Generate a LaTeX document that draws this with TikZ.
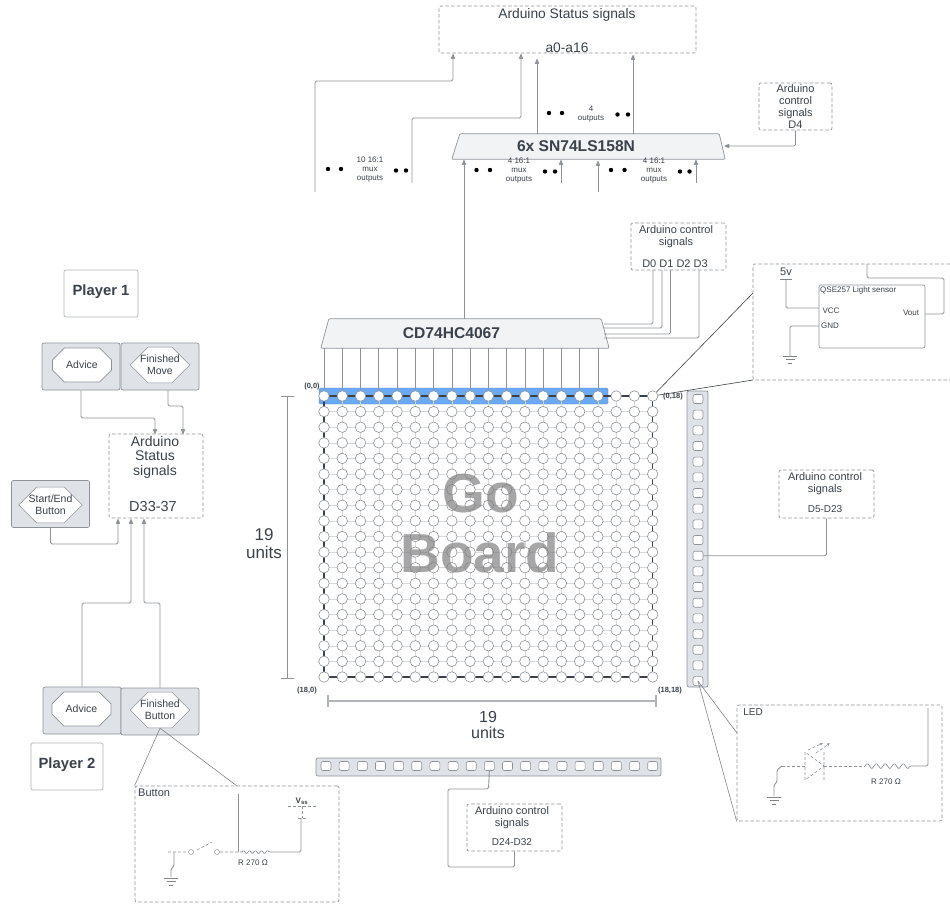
\documentclass[tikz,border=0pt]{standalone}
\usepackage{fontspec}
\setmainfont{Liberation Sans}
\usetikzlibrary{arrows.meta,shapes.misc,decorations.pathmorphing}
\definecolor{inkGray}{HTML}{3A414A}
\definecolor{lineGray}{HTML}{8E9399}
\definecolor{panelGray}{HTML}{DFE3E8}
\definecolor{muxGray}{HTML}{F2F3F5}
\definecolor{barBlue}{HTML}{6AA9F4}
\tikzset{
  sigText/.style={text=inkGray, inner sep=0pt, font=\fontsize{#1}{#1}\selectfont, align=center},
  sigText/.default=10,
  boldText/.style={text=inkGray, inner sep=0pt, font=\fontsize{#1}{#1}\selectfont\bfseries, align=center},
  wire/.style={draw=lineGray, line width=0.9pt, rounded corners=1.5},
  thinWire/.style={draw=lineGray!90!black, line width=0.6pt, rounded corners=1},
  dashWire/.style={draw=lineGray, line width=0.6pt, dash pattern=on 3pt off 2pt},
  sigArrow/.style={wire, -{Latex[length=6pt,width=5pt,round]}, shorten >=0pt},
  dashBox/.style={draw=lineGray, line width=0.7pt, dash pattern=on 3.5pt off 2.2pt, rounded corners=2, inner sep=0pt},
  plainBox/.style={draw=lineGray!70, line width=0.7pt, rounded corners=2, inner sep=0pt},
  panelBox/.style={draw=lineGray, fill=panelGray, line width=0.7pt, rounded corners=2, inner sep=0pt, minimum width=78, minimum height=47},
  octaBox/.style={draw=lineGray, fill=white, line width=0.6pt, chamfered rectangle, chamfered rectangle xsep=10, chamfered rectangle ysep=8, inner sep=0pt, minimum width=59, minimum height=34, text=inkGray, align=center, font=\fontsize{10.5}{12}\selectfont},
  muxArea/.style={inner sep=0pt},
  muxFill/.style={draw=lineGray, fill=muxGray, line width=0.7pt, rounded corners=1},
  gridDot/.style={circle, draw=lineGray, fill=white, line width=0.6pt, inner sep=0pt, minimum size=10.5},
  ledSlot/.style={rectangle, rounded corners=2, draw=lineGray, fill=white, line width=0.6pt, inner sep=0pt, minimum width=10, minimum height=9},
  termDot/.style={circle, draw=lineGray, fill=white, line width=0.5pt, inner sep=0pt, minimum size=5},
  gndBars/.pic={\draw[thinWire] (-7,0)--(7,0) (-4.5,3.5)--(4.5,3.5) (-2,7)--(2,7);}
}
\begin{document}
\begin{tikzpicture}[x=1pt, y=-1pt]
  \useasboundingbox (0,0) rectangle (950,905);

  \node[dashBox, minimum width=257, minimum height=47] (statusBox) at (567.5,29.5) {};
  \node[sigText=13.8] (statusTop) at (567,15) {Arduino Status signals};
  \node[sigText=13.8] (statusPins) at (567,48) {a0-a16};
  \node[muxArea, minimum width=273, minimum height=25] (muxLs) at (588.5,146.5) {};
  \draw[muxFill] (muxLs.south west) -- ([xshift=8]muxLs.north west) -- ([xshift=-6]muxLs.north east) -- (muxLs.south east) -- cycle;
  \node[boldText=15.6] (muxLsText) at (576,146) {6x SN74LS158N};
  \node[dashBox, minimum width=73, minimum height=47] (ctrlFour) at (795.5,106.5) {};
  \node[sigText=11] (ctrlFourText) at (795.5,106.5) {Arduino\\[1pt]control\\[1pt]signals\\[1pt]D4};

  \foreach \nm/\xa/\xb/\xc/\xd/\yy/\tx/\ty/\body in {
      dotsA/328/341/396/406/169/370/170/{10 16:1\\[1pt]mux\\[1pt]outputs},
      dotsB/476.5/490/545/555/170/519/171/{4 16:1\\[1pt]mux\\[1pt]outputs},
      dotsC/611/624.5/680/689.5/170/654/171/{4 16:1\\[1pt]mux\\[1pt]outputs},
      dotsD/549/562/617.5/628/113/591/114/{4\\[1pt]outputs}} {
    \fill[black] (\xa,\yy) circle (2.2) (\xb,\yy) circle (2.2) (\xc,\yy+1.5) circle (2.2) (\xd,\yy+1.5) circle (2.2);
    \node[sigText=8] (\nm) at (\tx,\ty) {\body};
  }

  \coordinate (tenLeft) at (315,192);
  \coordinate (tenRight) at (412,183);
  \coordinate (fourLeft) at (561,183);
  \coordinate (fourMid) at (598,192);
  \coordinate (fourRight) at (696,183);
  \draw[sigArrow] (tenLeft) |- (453,81) -- (453,54);
  \draw[sigArrow] (tenRight) |- (521,118) -- (521,54);
  \draw[sigArrow] (537,134) -- (537,59);
  \draw[sigArrow] (633,134) -- (633,55);
  \draw[sigArrow] (fourLeft) -- (561,160);
  \draw[sigArrow] (fourMid) -- (598,161);
  \draw[sigArrow] (fourRight) -- (696,160);
  \draw[sigArrow] (ctrlFour.south) |- (724.5,146);

  \node[muxArea, minimum width=288, minimum height=29] (muxHc) at (465,333.5) {};
  \draw[muxFill] (muxHc.south west) -- ([xshift=8]muxHc.north west) -- ([xshift=-8]muxHc.north east) -- (muxHc.south east) -- cycle;
  \node[boldText=15.6] (muxHcText) at (451.5,333) {CD74HC4067};
  \draw[sigArrow] (464,319) -- (464,160);

  \node[dashBox, minimum width=95, minimum height=47] (ctrlMux) at (678.5,246.5) {};
  \node[sigText=11] (ctrlMuxText) at (676,237) {Arduino control\\[1pt]signals};
  \node[sigText=11] (ctrlMuxPins) at (675,264) {D0 D1 D2 D3};
  \foreach \xx/\yy in {653/324,662/328,670.5/334,699/338}
    \draw[wire] (\xx,270) |- (604,\yy);

  \coordinate (sensorNW) at (753,264);
  \coordinate (sensorSW) at (753,380);
  \coordinate (sensorW) at (753,293);
  \draw[dashBox] (950,264) -- (sensorNW) -- (sensorSW) -- (950,380);
  \node[plainBox, draw=lineGray, minimum width=106, minimum height=63] (sensorBox) at (872,316.5) {};
  \node[sigText=8, anchor=west] (sensorName) at (820,290) {QSE257 Light sensor};
  \node[sigText=8] (sensorVcc) at (831,311) {VCC};
  \node[sigText=8] (sensorGnd) at (830,326) {GND};
  \node[sigText=8] (sensorOut) at (911,313) {Vout};
  \node[sigText=11] (fiveVolt) at (786,272) {5v};
  \draw[thinWire] (780,279) -- (792,279);
  \draw[wire] (786,279) |- (819,308);
  \draw[wire] (819,326) -| (790,356);
  \path (790,356) pic {gndBars};
  \draw[wire] (925,314) -| (944,278) -| (867,264);

  \fill[barBlue, rounded corners=1.5] (319,388) rectangle (608,404);
  \draw[barBlue!80!black, line width=0.4pt, rounded corners=1.5] (319,388) rectangle (608,404);
  \foreach \r in {0,...,18}
    \foreach \c in {0,...,18}
      \coordinate (p\r-\c) at (324+\c*18.26,396+\r*15.61);
  \foreach \r in {1,...,17} \draw[lineGray!35, line width=0.5pt] (p\r-0) -- (p\r-18);
  \foreach \c in {1,...,17} \draw[lineGray!35, line width=0.5pt] (p0-\c) -- (p18-\c);
  \draw[inkGray, line width=1.2pt] (p0-0) rectangle (p18-18);
  \foreach \r in {0,...,18}
    \foreach \c in {0,...,18}
      \node[gridDot] (c\r-\c) at (p\r-\c) {};
  \foreach \c in {0,...,15}
    \draw[lineGray, line width=0.6pt] (c0-\c) -- (c0-\c |- muxHc.south);
  \node[text=gray, text opacity=0.7, inner sep=0pt, font=\fontsize{55}{55}\selectfont\bfseries] (goWord) at (481,494) {Go};
  \node[text=gray, text opacity=0.7, inner sep=0pt, font=\fontsize{55}{55}\selectfont\bfseries] (boardWord) at (480,553) {Board};
  \draw[thinWire, draw=inkGray] (c0-18) -- (sensorW);
  \draw[thinWire, draw=inkGray] (c0-18) -- (sensorSW);

  \node[boldText=7.5] (cornerA) at (312,387) {(0,0)};
  \node[boldText=7.5] (cornerB) at (673,397) {(0,18)};
  \node[boldText=7.5] (cornerC) at (307,691) {(18,0)};
  \node[boldText=7.5] (cornerD) at (670,691) {(18,18)};

  \coordinate (dimTop) at (287,396);
  \coordinate (dimBot) at (287,678);
  \draw[wire, rounded corners=0] (dimTop) -- (dimBot) (281,396) -- (294,396) (281,678) -- (294,678);
  \node[sigText=17] (unitsLeft) at (264,544) {19\\[1pt]units};
  \coordinate (dimLeft) at (328,701);
  \coordinate (dimRight) at (656,701);
  \draw[lineGray!70, line width=1.2pt] (dimLeft) -- (dimRight) (328,695) -- (328,707) (656,695) -- (656,707);
  \node[sigText=16] (unitsBot) at (488,725) {19\\units};

  \node[panelBox, minimum width=21, minimum height=296] (stripV) at (697.5,539) {};
  \foreach \i in {0,...,18}
    \node[ledSlot] (slotV\i) at (698,399+\i*15.67) {};
  \node[panelBox, minimum width=345, minimum height=18] (stripH) at (488.5,767) {};
  \foreach \i in {0,...,18}
    \node[ledSlot] (slotH\i) at (326+\i*18.15,766) {};

  \node[dashBox, minimum width=95, minimum height=48] (ctrlRow) at (826.5,494) {};
  \node[sigText=11] (ctrlRowText) at (825,484) {Arduino control\\[1pt]signals};
  \node[sigText=10] (ctrlRowPins) at (825,509) {D5-D23};
  \draw[wire] (ctrlRow.south) |- (slotV10.east);

  \node[dashBox, minimum width=95, minimum height=47] (ctrlCol) at (514.5,827.5) {};
  \node[sigText=11] (ctrlColText) at (512,818) {Arduino control\\[1pt]signals};
  \node[sigText=10] (ctrlColPins) at (512,842) {D24-D32};
  \draw[wire] (slotH9.south) -- (488.5,789) -| (448,867) -| (ctrlCol.south);

  \node[dashBox, minimum width=205, minimum height=116] (ledBox) at (839.5,763) {};
  \node[sigText=10] (ledName) at (753,712) {LED};
  \coordinate (ledW) at (737,733);
  \draw[thinWire] (slotV18.center) -- (ledW);
  \draw[thinWire] (slotV18.center) -- (ledBox.south west);
  \draw[wire] (928,708) |- (912,766);
  \draw[thinWire, decorate, decoration={zigzag, amplitude=3, segment length=9}] (865,766) -- (912,766);
  \draw[dashWire] (824,766) -- (865,766) (782,766) -- (805,766);
  \draw[dashWire] (805,752) -- (805,780) -- (824,766) -- cycle (824,752) -- (824,780);
  \draw[dashWire, -{Latex[length=3pt,width=3pt]}] (808,750) -- (823,743);
  \draw[dashWire, -{Latex[length=3pt,width=3pt]}] (816,753) -- (830,743);
  \draw[wire] (782,766) -- (777,770) -- (777,782) -- (774,785) -- (774,796);
  \path (774,797) pic {gndBars};
  \node[sigText=8] (ledOhm) at (886,782) {R 270 Ω};

  \node[plainBox, minimum width=74, minimum height=47] (playerOne) at (101,293.5) {};
  \node[boldText=14.8] (playerOneText) at (101,292) {Player 1};
  \node[panelBox] (advOnePanel) at (81,366.5) {};
  \node[panelBox] (finOnePanel) at (160,366.5) {};
  \node[octaBox] (advOne) at (82,365) {Advice};
  \node[octaBox] (finOne) at (160,365) {Finished\\Move};

  \node[dashBox, minimum width=94, minimum height=84] (statusSide) at (156,476) {};
  \node[sigText=14] (statusSideText) at (155,457) {Arduino\\[0.5pt]Status\\[0.5pt]signals};
  \node[sigText=14.5] (statusSidePins) at (153,507) {D33-37};
  \draw[sigArrow] (advOnePanel.south) |- (155,418) -- (155,434);
  \draw[sigArrow] (168,390) |- (183,406) -- (183,434);

  \node[panelBox] (startPanel) at (50.5,504) {};
  \node[octaBox] (startBtn) at (50.5,505) {Start/End\\Button};
  \draw[sigArrow] (startPanel.south) |- (118,544) -- (118,519);

  \node[panelBox] (advTwoPanel) at (82,710.5) {};
  \node[panelBox] (finTwoPanel) at (160,711.5) {};
  \node[octaBox] (advTwo) at (81.5,709) {Advice};
  \node[octaBox] (finTwo) at (160,710) {Finished\\Button};
  \node[plainBox, minimum width=72, minimum height=47] (playerTwo) at (67,766.5) {};
  \node[boldText=14.8] (playerTwoText) at (67,765) {Player 2};
  \draw[sigArrow] (advTwoPanel.north) |- (131,603) -- (131,519);
  \draw[sigArrow] (finTwoPanel.north) |- (144,603) -- (144,519);

  \node[dashBox, minimum width=204, minimum height=116] (buttonBox) at (237,844) {};
  \node[sigText=11, anchor=west] (buttonName) at (138,793) {Button};
  \coordinate (buttonTop) at (237,786);
  \draw[thinWire] (finTwo.south) -- (buttonBox.north west);
  \draw[thinWire] (finTwo.south) -- (buttonTop);
  \node[termDot] (termA) at (191,852) {};
  \node[termDot] (termB) at (217,852) {};
  \draw[dashWire] (168,852) -- (termA) (termB) -- (242,852) (197,850) -- (212,842);
  \draw[wire] (238,794) -- (238,852);
  \draw[thinWire, decorate, decoration={zigzag, amplitude=2, segment length=6}] (242,852) -- (270,852);
  \draw[wire] (270,852) -| (301,818);
  \draw[dashWire] (288,806) -- (317,806) (302,806) -- (302,818) (298,818) -- (306,818);
  \node[boldText=8] (vssText) at (302,801) {V\textsubscript{ss}};
  \node[sigText=8] (buttonOhm) at (253,863) {R 270 Ω};
  \draw[wire] (174,852) -- (174,866) -- (171,869) -- (171,877);
  \path (171,878) pic {gndBars};
\end{tikzpicture}
\end{document}
